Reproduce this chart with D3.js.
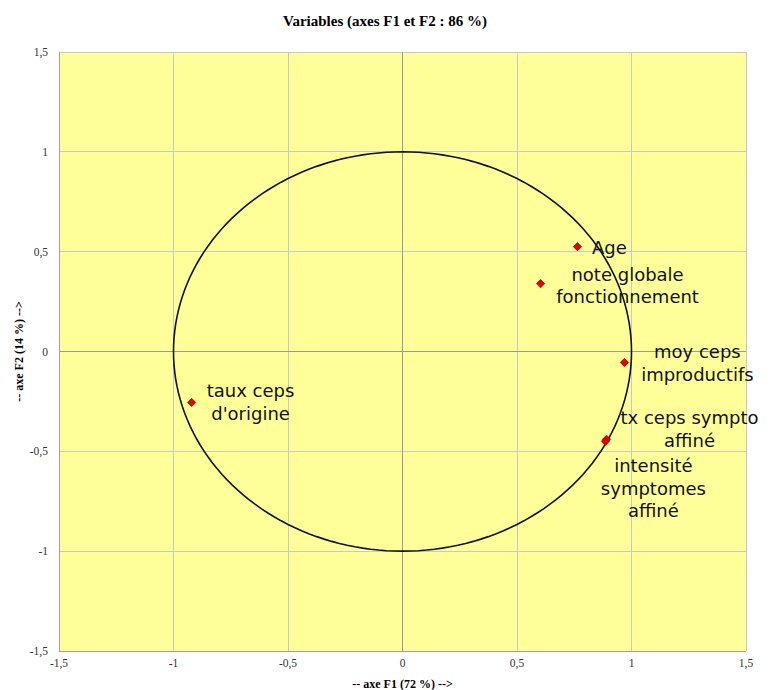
<!DOCTYPE html>
<html>
<head>
<meta charset="utf-8">
<script src="https://cdn.jsdelivr.net/npm/d3@7/dist/d3.min.js"></script>
<style>
  html, body { margin: 0; padding: 0; background: #ffffff; }
  svg { display: block; }
</style>
</head>
<body>
<div id="chart"></div>
<script>
// Correlation circle: variables projected on factors F1 and F2
const variableNames = [
  ["Age"],
  ["note globale", "fonctionnement"],
  ["moy ceps", "improductifs"],
  ["tx ceps sympto", "affiné"],
  ["intensité", "symptomes", "affiné"],
  ["taux ceps", "d'origine"]
];
const f1Values = [0.764, 0.603, 0.969, 0.891, 0.886, -0.921];
const f2Values = [0.525, 0.340, -0.055, -0.440, -0.450, -0.255];
const tickValues = [-1.5, -1, -0.5, 0, 0.5, 1, 1.5];

const chartTitle = "Variables (axes F1 et F2 : 86 %)";
const xTitle = "-- axe F1 (72 %) -->";
const yTitle = "-- axe F2 (14 %) -->";

// label placement relative to each point (pixels): dx of text centre, dy of first baseline
const labelOffsets = [
  [32, 7],
  [87, -3],
  [73, -4],
  [83, -15],
  [48, 31],
  [59, -5]
];

const W = 770, H = 690;
const plot = { left: 59, right: 746, top: 52, bottom: 651 };

const svg = d3.select("#chart").append("svg")
  .attr("width", W).attr("height", H);

const x = d3.scaleLinear().domain([-1.5, 1.5]).range([plot.left, plot.right]);
const y = d3.scaleLinear().domain([-1.5, 1.5]).range([plot.bottom, plot.top]);

const fmt = v => String(v).replace(".", ",");
const serif = "'Liberation Serif', 'Times New Roman', serif";

// plot background
svg.append("rect")
  .attr("x", plot.left).attr("y", plot.top)
  .attr("width", plot.right - plot.left).attr("height", plot.bottom - plot.top)
  .attr("fill", "#FFFF99");

// gridlines
const grid = svg.append("g").attr("shape-rendering", "crispEdges");
grid.selectAll("line.v").data(tickValues.filter(d => d !== 0)).join("line")
  .attr("x1", d => x(d)).attr("x2", d => x(d))
  .attr("y1", plot.top).attr("y2", plot.bottom)
  .attr("stroke", "#c8c8c8").attr("stroke-width", 1);
grid.selectAll("line.h").data(tickValues.filter(d => d !== 0)).join("line")
  .attr("class", "h")
  .attr("x1", plot.left).attr("x2", plot.right)
  .attr("y1", d => y(d)).attr("y2", d => y(d))
  .attr("stroke", "#c8c8c8").attr("stroke-width", 1);

// zero axes
grid.append("line")
  .attr("x1", x(0)).attr("x2", x(0)).attr("y1", plot.top).attr("y2", plot.bottom)
  .attr("stroke", "#9a9a9a");
grid.append("line")
  .attr("x1", plot.left).attr("x2", plot.right).attr("y1", y(0)).attr("y2", y(0))
  .attr("stroke", "#9a9a9a");

// frame axes (left and bottom)
grid.append("line")
  .attr("x1", plot.left).attr("x2", plot.left).attr("y1", plot.top).attr("y2", plot.bottom)
  .attr("stroke", "#a0a0a0");
grid.append("line")
  .attr("x1", plot.left).attr("x2", plot.right).attr("y1", plot.bottom).attr("y2", plot.bottom)
  .attr("stroke", "#a0a0a0");

// tick labels
svg.append("g").selectAll("text").data(tickValues).join("text")
  .attr("x", d => x(d)).attr("y", plot.bottom + 16)
  .attr("text-anchor", "middle")
  .attr("font-family", serif).attr("font-size", 11.5).attr("fill", "#333")
  .text(fmt);
svg.append("g").selectAll("text").data(tickValues).join("text")
  .attr("x", plot.left - 11).attr("y", d => y(d) + 4)
  .attr("text-anchor", "end")
  .attr("font-family", serif).attr("font-size", 11.5).attr("fill", "#333")
  .text(fmt);

// unit correlation circle
const theta = d3.range(0, 361, 2).map(a => a * Math.PI / 180);
svg.append("path")
  .datum(theta)
  .attr("d", d3.line().x(t => x(Math.cos(t))).y(t => y(Math.sin(t))).curve(d3.curveLinearClosed))
  .attr("fill", "none").attr("stroke", "#111").attr("stroke-width", 1.6);

// variable points
const pts = f1Values.map((v, i) => ({ f1: v, f2: f2Values[i], name: variableNames[i], off: labelOffsets[i] }));
svg.append("g").selectAll("path").data(pts).join("path")
  .attr("transform", d => `translate(${x(d.f1)},${y(d.f2)})`)
  .attr("d", d3.symbol(d3.symbolDiamond2, 44))
  .attr("fill", "#ee0000").attr("stroke", "#550000").attr("stroke-width", 0.6);

// variable labels
const labels = svg.append("g").selectAll("text").data(pts).join("text")
  .attr("font-family", "'DejaVu Sans', sans-serif").attr("font-size", 18)
  .attr("fill", "#111").attr("text-anchor", "middle");
labels.each(function (d) {
  const t = d3.select(this);
  d.name.forEach((line, j) => {
    t.append("tspan")
      .attr("x", x(d.f1) + d.off[0])
      .attr("y", y(d.f2) + d.off[1] + j * 22.5)
      .text(line);
  });
});

// titles
svg.append("text")
  .attr("x", 385).attr("y", 26).attr("text-anchor", "middle")
  .attr("font-family", serif).attr("font-weight", "bold").attr("font-size", 15)
  .text(chartTitle);
svg.append("text")
  .attr("x", x(0)).attr("y", 688).attr("text-anchor", "middle")
  .attr("font-family", serif).attr("font-weight", "bold").attr("font-size", 12)
  .text(xTitle);
svg.append("text")
  .attr("transform", `translate(23,${y(0)}) rotate(-90)`)
  .attr("text-anchor", "middle")
  .attr("font-family", serif).attr("font-weight", "bold").attr("font-size", 12)
  .text(yTitle);
</script>
</body>
</html>
